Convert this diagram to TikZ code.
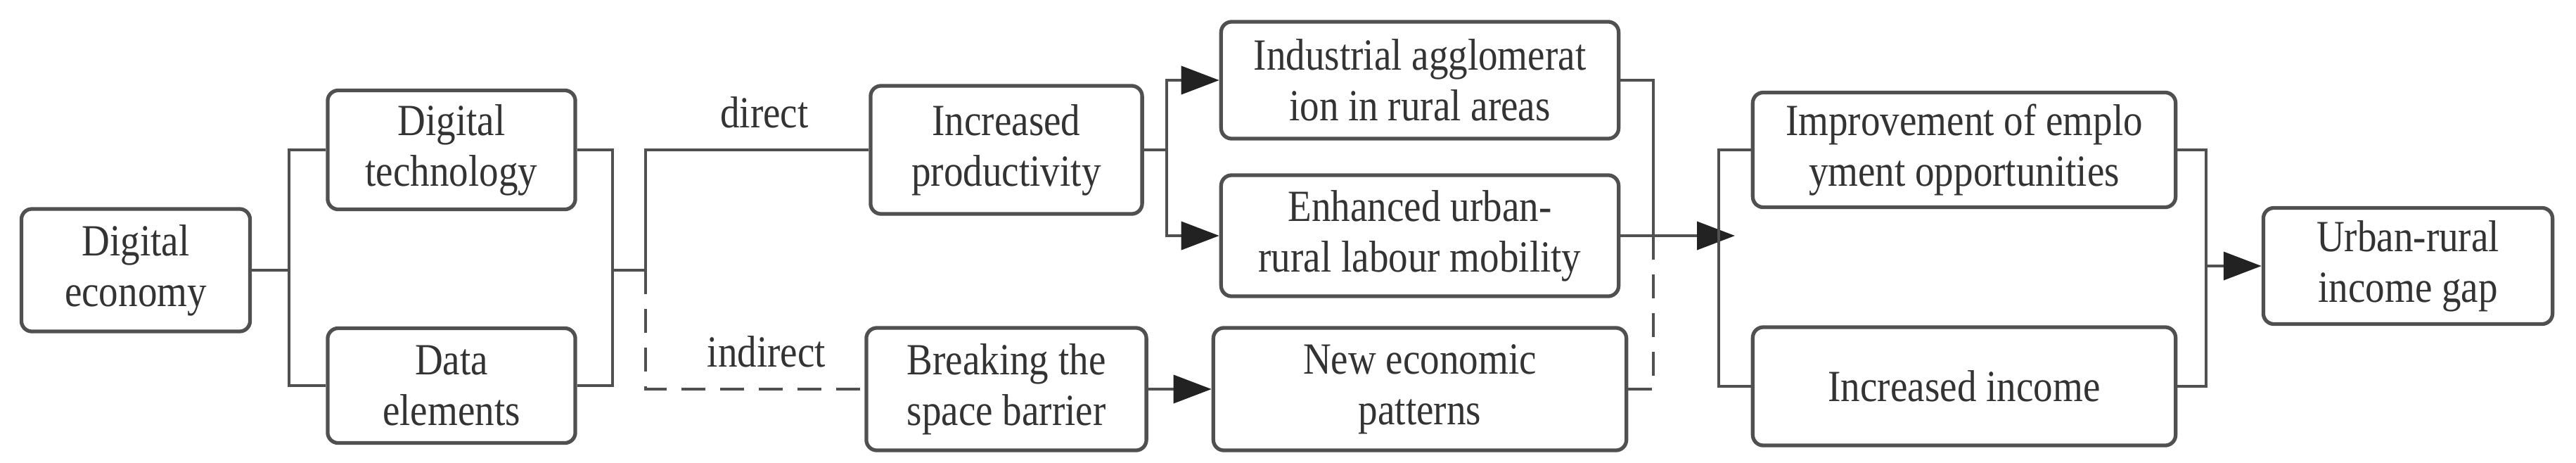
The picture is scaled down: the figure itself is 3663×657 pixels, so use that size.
\documentclass[tikz,border=0pt]{standalone}
\usepackage{fontspec}
\setmainfont{Liberation Serif}[FakeStretch=0.87]
\usepackage{tikz}
\usetikzlibrary{arrows.meta}
\definecolor{boxline}{HTML}{505050}
\definecolor{tipfill}{HTML}{222222}
\definecolor{inktext}{HTML}{333333}
\tikzset{
box/.style={ % Sets the properties for each box
draw=boxline,
line width=1.5pt,
rounded corners=0.15cm,
fill=white,
align=center,
inner sep=0pt,
text=inktext,
font=\fontsize{18}{20.5}\selectfont},
lbl/.style={text=inktext, font=\fontsize{18}{20.5}\selectfont}, % Path labels
link/.style={draw=boxline, line width=1.1pt}, % Plain connector
dashlink/.style={link, dash pattern=on 0.34cm off 0.21cm}, % Indirect path
tip/.style={-{Triangle[length=0.54cm, width=0.4cm, color=tipfill]}}}

\begin{document}
\begin{tikzpicture}[x=0.01cm, y=-0.01cm]
\useasboundingbox (0,0) rectangle (3663,657);
\node[box, minimum width=3.25cm, minimum height=1.74cm] (econ) at (193,384) {Digital\\economy};
\node[box, minimum width=3.52cm, minimum height=1.69cm] (tech) at (642,213) {Digital\\technology};
\node[box, minimum width=3.52cm, minimum height=1.63cm] (data) at (642,548) {Data\\elements};
\node[box, minimum width=3.86cm, minimum height=1.82cm] (prod) at (1431,213) {Increased\\productivity};
\node[box, minimum width=3.98cm, minimum height=1.74cm] (space) at (1431,553) {Breaking the\\space barrier};
\node[box, minimum width=5.65cm, minimum height=1.66cm] (indus) at (2019,114) {Industrial agglomerat\\ion in rural areas};
\node[box, minimum width=5.65cm, minimum height=1.72cm] (mobil) at (2019,335) {Enhanced urban-\\rural labour mobility};
\node[box, minimum width=5.87cm, minimum height=1.74cm] (pattern) at (2019,553) {New economic\\patterns};
\node[box, minimum width=6.01cm, minimum height=1.63cm] (employ) at (2793,213) {Improvement of emplo\\yment opportunities};
\node[box, minimum width=6.01cm, minimum height=1.68cm] (income) at (2793,549) {Increased income};
\node[box, minimum width=4.11cm, minimum height=1.65cm] (gap) at (3424,378) {Urban-rural\\income gap};
\node[lbl] (direct) at (1087,160) {direct};
\node[lbl] (indirect) at (1090,500) {indirect};
\coordinate (fork1) at (411,384);
\coordinate (join1) at (871,384);
\coordinate (fork2) at (918,384);
\coordinate (fork3) at (1659,213);
\coordinate (join2) at (2351,335);
\coordinate (fork4) at (2444,335);
\coordinate (join3) at (3137,378);
\draw[link] (econ.east) -- (fork1);
\draw[link] (tech.west) -| (fork1) |- (data.west);
\draw[link] (tech.east) -| (join1) |- (data.east);
\draw[link] (join1) -- (fork2) |- (prod.west);
\draw[dashlink] (fork2) |- (space.west);
\draw[link] (prod.east) -- (fork3);
\draw[link, tip] (fork3) |- (indus.west);
\draw[link, tip] (fork3) |- (mobil.west);
\draw[link, tip] (space.east) -- (pattern.west);
\draw[link] (indus.east) -| (join2);
\draw[dashlink] (pattern.east) -| (join2);
\draw[link, tip, shorten >=-0.23cm] (mobil.east) -- (fork4);
\draw[link] (employ.west) -| (fork4) |- (income.west);
\draw[link] (employ.east) -| (join3) |- (income.east);
\draw[link, tip] (join3) -- (gap.west);
\end{tikzpicture}
\end{document}
